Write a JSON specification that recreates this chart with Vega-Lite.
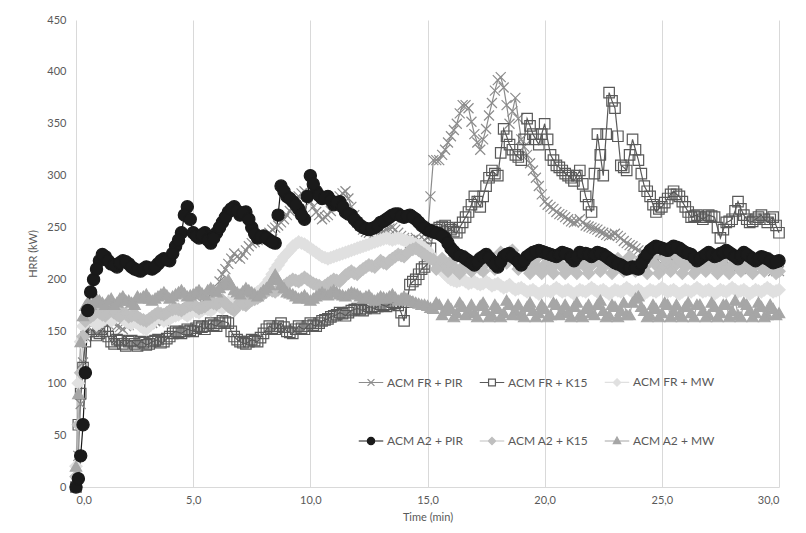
{
"$schema": "https://vega.github.io/schema/vega-lite/v6.json",
"width": 703, "height": 467,
"autosize": {"type": "none"},
"padding": {"left": 76, "top": 20, "right": 27, "bottom": 46},
"background": "white",
"config": {"view": {"stroke": null}, "font": "Lato"},
"data": {"values": [
{"t":0,"k1":0,"k2":0,"k3":20,"k9":0,"k5":10,"k6":20},
{"t":0.1,"k1":30,"k2":60,"k3":100,"k9":8,"k5":60,"k6":90},
{"t":0.2,"k1":80,"k2":90,"k3":140,"k9":30,"k5":110,"k6":140},
{"t":0.3,"k1":120,"k2":115,"k3":155,"k9":60,"k5":145,"k6":165},
{"t":0.4,"k1":145,"k2":140,"k3":160,"k9":110,"k5":160,"k6":175},
{"t":0.5,"k1":155,"k2":150,"k3":162,"k9":170,"k5":165,"k6":178},
{"t":0.75,"k1":160,"k2":150,"k3":160,"k9":200,"k5":166,"k6":178},
{"t":1.0,"k1":162,"k2":148,"k3":158,"k9":218,"k5":168,"k6":180},
{"t":1.25,"k1":158,"k2":150,"k3":162,"k9":222,"k5":165,"k6":176},
{"t":1.5,"k1":160,"k2":140,"k3":160,"k9":215,"k5":170,"k6":182},
{"t":1.75,"k1":155,"k2":142,"k3":165,"k9":212,"k5":166,"k6":178},
{"t":2.0,"k1":152,"k2":138,"k3":162,"k9":218,"k5":168,"k6":184},
{"t":2.25,"k1":156,"k2":140,"k3":158,"k9":215,"k5":164,"k6":180},
{"t":2.5,"k1":160,"k2":138,"k3":160,"k9":210,"k5":166,"k6":176},
{"t":2.75,"k1":158,"k2":140,"k3":155,"k9":208,"k5":162,"k6":182},
{"t":3.0,"k1":155,"k2":137,"k3":152,"k9":212,"k5":160,"k6":186},
{"t":3.25,"k1":158,"k2":140,"k3":158,"k9":210,"k5":164,"k6":180},
{"t":3.5,"k1":162,"k2":142,"k3":165,"k9":215,"k5":168,"k6":184},
{"t":3.75,"k1":160,"k2":140,"k3":160,"k9":220,"k5":166,"k6":188},
{"t":4.0,"k1":165,"k2":145,"k3":162,"k9":218,"k5":170,"k6":182},
{"t":4.25,"k1":168,"k2":150,"k3":165,"k9":232,"k5":172,"k6":186},
{"t":4.5,"k1":170,"k2":148,"k3":168,"k9":245,"k5":170,"k6":190},
{"t":4.75,"k1":172,"k2":152,"k3":165,"k9":270,"k5":174,"k6":184},
{"t":5.0,"k1":170,"k2":150,"k3":170,"k9":245,"k5":176,"k6":186},
{"t":5.25,"k1":175,"k2":155,"k3":168,"k9":240,"k5":172,"k6":190},
{"t":5.5,"k1":180,"k2":152,"k3":172,"k9":245,"k5":174,"k6":185},
{"t":5.75,"k1":185,"k2":158,"k3":170,"k9":235,"k5":178,"k6":192},
{"t":6.0,"k1":190,"k2":155,"k3":175,"k9":245,"k5":176,"k6":188},
{"t":6.25,"k1":205,"k2":160,"k3":172,"k9":255,"k5":180,"k6":195},
{"t":6.5,"k1":215,"k2":158,"k3":178,"k9":265,"k5":174,"k6":200},
{"t":6.75,"k1":225,"k2":145,"k3":176,"k9":270,"k5":170,"k6":190},
{"t":7.0,"k1":220,"k2":140,"k3":180,"k9":262,"k5":178,"k6":186},
{"t":7.25,"k1":228,"k2":138,"k3":182,"k9":265,"k5":175,"k6":192},
{"t":7.5,"k1":235,"k2":142,"k3":185,"k9":250,"k5":180,"k6":188},
{"t":7.75,"k1":238,"k2":140,"k3":188,"k9":240,"k5":182,"k6":184},
{"t":8.0,"k1":240,"k2":148,"k3":192,"k9":242,"k5":186,"k6":190},
{"t":8.25,"k1":245,"k2":155,"k3":200,"k9":238,"k5":190,"k6":195},
{"t":8.5,"k1":250,"k2":152,"k3":210,"k9":235,"k5":188,"k6":205},
{"t":8.75,"k1":255,"k2":158,"k3":218,"k9":290,"k5":192,"k6":195},
{"t":9.0,"k1":262,"k2":150,"k3":225,"k9":280,"k5":196,"k6":188},
{"t":9.25,"k1":270,"k2":148,"k3":232,"k9":275,"k5":200,"k6":186},
{"t":9.5,"k1":280,"k2":155,"k3":236,"k9":268,"k5":198,"k6":182},
{"t":9.75,"k1":285,"k2":152,"k3":234,"k9":258,"k5":202,"k6":185},
{"t":10.0,"k1":275,"k2":158,"k3":230,"k9":300,"k5":198,"k6":180},
{"t":10.25,"k1":265,"k2":155,"k3":226,"k9":285,"k5":195,"k6":184},
{"t":10.5,"k1":258,"k2":160,"k3":222,"k9":278,"k5":192,"k6":188},
{"t":10.75,"k1":262,"k2":162,"k3":220,"k9":280,"k5":196,"k6":185},
{"t":11.0,"k1":270,"k2":165,"k3":222,"k9":272,"k5":200,"k6":190},
{"t":11.25,"k1":280,"k2":168,"k3":224,"k9":275,"k5":198,"k6":186},
{"t":11.5,"k1":285,"k2":165,"k3":226,"k9":265,"k5":204,"k6":184},
{"t":11.75,"k1":270,"k2":170,"k3":228,"k9":262,"k5":208,"k6":188},
{"t":12.0,"k1":255,"k2":172,"k3":230,"k9":255,"k5":205,"k6":186},
{"t":12.25,"k1":248,"k2":170,"k3":232,"k9":250,"k5":210,"k6":182},
{"t":12.5,"k1":245,"k2":174,"k3":234,"k9":248,"k5":214,"k6":185},
{"t":12.75,"k1":240,"k2":172,"k3":236,"k9":250,"k5":212,"k6":180},
{"t":13.0,"k1":244,"k2":176,"k3":238,"k9":255,"k5":218,"k6":184},
{"t":13.25,"k1":248,"k2":174,"k3":240,"k9":258,"k5":215,"k6":182},
{"t":13.5,"k1":250,"k2":178,"k3":238,"k9":262,"k5":220,"k6":186},
{"t":13.75,"k1":245,"k2":175,"k3":240,"k9":263,"k5":224,"k6":180},
{"t":14.0,"k1":240,"k2":160,"k3":238,"k9":260,"k5":222,"k6":184},
{"t":14.25,"k1":235,"k2":195,"k3":236,"k9":262,"k5":228,"k6":180},
{"t":14.5,"k1":240,"k2":200,"k3":234,"k9":258,"k5":230,"k6":178},
{"t":14.75,"k1":235,"k2":210,"k3":232,"k9":252,"k5":226,"k6":176},
{"t":15.0,"k1":240,"k2":215,"k3":228,"k9":248,"k5":222,"k6":175},
{"t":15.25,"k1":315,"k2":245,"k3":220,"k9":246,"k5":219,"k6":172},
{"t":15.5,"k1":315,"k2":250,"k3":212,"k9":244,"k5":214,"k6":176},
{"t":15.75,"k1":325,"k2":252,"k3":205,"k9":240,"k5":212,"k6":170},
{"t":16.0,"k1":338,"k2":248,"k3":200,"k9":230,"k5":216,"k6":172},
{"t":16.25,"k1":350,"k2":245,"k3":198,"k9":224,"k5":209,"k6":168},
{"t":16.5,"k1":368,"k2":255,"k3":200,"k9":222,"k5":212,"k6":174},
{"t":16.75,"k1":365,"k2":265,"k3":196,"k9":218,"k5":218,"k6":170},
{"t":17.0,"k1":340,"k2":280,"k3":198,"k9":214,"k5":214,"k6":168},
{"t":17.25,"k1":325,"k2":270,"k3":195,"k9":220,"k5":210,"k6":175},
{"t":17.5,"k1":345,"k2":290,"k3":198,"k9":224,"k5":216,"k6":170},
{"t":17.75,"k1":370,"k2":305,"k3":194,"k9":218,"k5":220,"k6":166},
{"t":18.0,"k1":392,"k2":300,"k3":196,"k9":212,"k5":214,"k6":172},
{"t":18.25,"k1":385,"k2":345,"k3":192,"k9":222,"k5":222,"k6":168},
{"t":18.5,"k1":350,"k2":330,"k3":195,"k9":225,"k5":226,"k6":176},
{"t":18.75,"k1":375,"k2":320,"k3":190,"k9":220,"k5":220,"k6":170},
{"t":19.0,"k1":335,"k2":315,"k3":192,"k9":214,"k5":214,"k6":166},
{"t":19.25,"k1":320,"k2":355,"k3":188,"k9":222,"k5":212,"k6":174},
{"t":19.5,"k1":305,"k2":340,"k3":190,"k9":226,"k5":216,"k6":170},
{"t":19.75,"k1":290,"k2":330,"k3":186,"k9":228,"k5":210,"k6":168},
{"t":20.0,"k1":275,"k2":350,"k3":190,"k9":226,"k5":214,"k6":172},
{"t":20.25,"k1":270,"k2":320,"k3":188,"k9":224,"k5":210,"k6":166},
{"t":20.5,"k1":265,"k2":310,"k3":192,"k9":222,"k5":216,"k6":176},
{"t":20.75,"k1":262,"k2":305,"k3":188,"k9":226,"k5":212,"k6":170},
{"t":21.0,"k1":258,"k2":300,"k3":190,"k9":224,"k5":214,"k6":168},
{"t":21.25,"k1":255,"k2":295,"k3":186,"k9":218,"k5":210,"k6":174},
{"t":21.5,"k1":258,"k2":305,"k3":190,"k9":226,"k5":216,"k6":166},
{"t":21.75,"k1":252,"k2":280,"k3":188,"k9":225,"k5":212,"k6":172},
{"t":22.0,"k1":250,"k2":265,"k3":192,"k9":222,"k5":214,"k6":168},
{"t":22.25,"k1":248,"k2":340,"k3":188,"k9":226,"k5":218,"k6":176},
{"t":22.5,"k1":245,"k2":300,"k3":190,"k9":224,"k5":212,"k6":170},
{"t":22.75,"k1":242,"k2":380,"k3":186,"k9":220,"k5":216,"k6":166},
{"t":23.0,"k1":244,"k2":365,"k3":190,"k9":216,"k5":210,"k6":174},
{"t":23.25,"k1":240,"k2":310,"k3":188,"k9":214,"k5":214,"k6":170},
{"t":23.5,"k1":235,"k2":305,"k3":192,"k9":210,"k5":218,"k6":166},
{"t":23.75,"k1":232,"k2":335,"k3":188,"k9":212,"k5":212,"k6":178},
{"t":24.0,"k1":228,"k2":315,"k3":190,"k9":210,"k5":216,"k6":184},
{"t":24.25,"k1":225,"k2":290,"k3":186,"k9":220,"k5":212,"k6":170},
{"t":24.5,"k1":222,"k2":280,"k3":190,"k9":228,"k5":218,"k6":166},
{"t":24.75,"k1":220,"k2":265,"k3":188,"k9":232,"k5":214,"k6":172},
{"t":25.0,"k1":222,"k2":270,"k3":192,"k9":230,"k5":210,"k6":168},
{"t":25.25,"k1":218,"k2":278,"k3":188,"k9":228,"k5":216,"k6":176},
{"t":25.5,"k1":220,"k2":285,"k3":190,"k9":232,"k5":212,"k6":170},
{"t":25.75,"k1":216,"k2":280,"k3":186,"k9":230,"k5":218,"k6":166},
{"t":26.0,"k1":220,"k2":270,"k3":190,"k9":226,"k5":212,"k6":174},
{"t":26.25,"k1":214,"k2":260,"k3":188,"k9":224,"k5":216,"k6":168},
{"t":26.5,"k1":218,"k2":262,"k3":192,"k9":218,"k5":210,"k6":176},
{"t":26.75,"k1":215,"k2":258,"k3":188,"k9":222,"k5":214,"k6":170},
{"t":27.0,"k1":218,"k2":262,"k3":190,"k9":226,"k5":218,"k6":166},
{"t":27.25,"k1":212,"k2":260,"k3":186,"k9":222,"k5":212,"k6":174},
{"t":27.5,"k1":216,"k2":240,"k3":190,"k9":225,"k5":216,"k6":168},
{"t":27.75,"k1":214,"k2":255,"k3":188,"k9":228,"k5":210,"k6":176},
{"t":28.0,"k1":216,"k2":258,"k3":192,"k9":224,"k5":214,"k6":170},
{"t":28.25,"k1":212,"k2":275,"k3":188,"k9":220,"k5":212,"k6":166},
{"t":28.5,"k1":214,"k2":262,"k3":190,"k9":226,"k5":216,"k6":178},
{"t":28.75,"k1":210,"k2":255,"k3":186,"k9":222,"k5":210,"k6":170},
{"t":29.0,"k1":214,"k2":258,"k3":190,"k9":218,"k5":214,"k6":168},
{"t":29.25,"k1":210,"k2":262,"k3":188,"k9":222,"k5":212,"k6":174},
{"t":29.5,"k1":212,"k2":255,"k3":192,"k9":220,"k5":216,"k6":166},
{"t":29.75,"k1":208,"k2":260,"k3":188,"k9":216,"k5":210,"k6":172},
{"t":30.0,"k1":208,"k2":245,"k3":190,"k9":218,"k5":208,"k6":168},
{"t":0.625,"k1":158,"k2":152,"k3":161,"k9":188,"k5":164,"k6":176},
{"t":0.875,"k1":162,"k2":146,"k3":156,"k9":210,"k5":169,"k6":182},
{"t":1.125,"k1":160,"k2":152,"k3":160,"k9":224,"k5":166,"k6":178},
{"t":1.375,"k1":157,"k2":145,"k3":163,"k9":218,"k5":168,"k6":180},
{"t":1.625,"k1":158,"k2":138,"k3":162,"k9":214,"k5":168,"k6":176},
{"t":1.875,"k1":154,"k2":141,"k3":166,"k9":216,"k5":164,"k6":182},
{"t":2.125,"k1":155,"k2":136,"k3":160,"k9":217,"k5":167,"k6":180},
{"t":2.375,"k1":158,"k2":141,"k3":157,"k9":212,"k5":165,"k6":178},
{"t":2.625,"k1":159,"k2":136,"k3":158,"k9":209,"k5":164,"k6":184},
{"t":2.875,"k1":156,"k2":139,"k3":153,"k9":210,"k5":161,"k6":184},
{"t":3.125,"k1":157,"k2":138,"k3":155,"k9":211,"k5":162,"k6":182},
{"t":3.375,"k1":160,"k2":141,"k3":162,"k9":212,"k5":166,"k6":182},
{"t":3.625,"k1":161,"k2":139,"k3":163,"k9":218,"k5":167,"k6":186},
{"t":3.875,"k1":163,"k2":143,"k3":161,"k9":219,"k5":168,"k6":185},
{"t":4.125,"k1":166,"k2":148,"k3":164,"k9":225,"k5":171,"k6":184},
{"t":4.375,"k1":169,"k2":149,"k3":166,"k9":238,"k5":171,"k6":188},
{"t":4.625,"k1":171,"k2":150,"k3":167,"k9":262,"k5":172,"k6":187},
{"t":4.875,"k1":171,"k2":151,"k3":167,"k9":258,"k5":175,"k6":185},
{"t":5.125,"k1":172,"k2":153,"k3":169,"k9":242,"k5":174,"k6":188},
{"t":5.375,"k1":178,"k2":154,"k3":170,"k9":243,"k5":173,"k6":187},
{"t":5.625,"k1":182,"k2":155,"k3":171,"k9":238,"k5":176,"k6":190},
{"t":5.875,"k1":188,"k2":156,"k3":172,"k9":240,"k5":177,"k6":190},
{"t":6.125,"k1":198,"k2":158,"k3":174,"k9":250,"k5":178,"k6":192},
{"t":6.375,"k1":210,"k2":159,"k3":175,"k9":260,"k5":177,"k6":198},
{"t":6.625,"k1":220,"k2":150,"k3":177,"k9":268,"k5":172,"k6":195},
{"t":6.875,"k1":222,"k2":142,"k3":178,"k9":266,"k5":174,"k6":188},
{"t":7.125,"k1":224,"k2":139,"k3":181,"k9":264,"k5":176,"k6":189},
{"t":7.375,"k1":232,"k2":140,"k3":184,"k9":258,"k5":178,"k6":190},
{"t":7.625,"k1":236,"k2":141,"k3":186,"k9":244,"k5":181,"k6":186},
{"t":7.875,"k1":239,"k2":144,"k3":190,"k9":241,"k5":184,"k6":187},
{"t":8.125,"k1":242,"k2":152,"k3":196,"k9":240,"k5":188,"k6":192},
{"t":8.375,"k1":248,"k2":153,"k3":205,"k9":236,"k5":189,"k6":200},
{"t":8.625,"k1":252,"k2":155,"k3":214,"k9":262,"k5":190,"k6":200},
{"t":8.875,"k1":258,"k2":154,"k3":222,"k9":285,"k5":194,"k6":192},
{"t":9.125,"k1":266,"k2":149,"k3":228,"k9":278,"k5":198,"k6":187},
{"t":9.375,"k1":275,"k2":152,"k3":234,"k9":272,"k5":199,"k6":184},
{"t":9.625,"k1":283,"k2":153,"k3":235,"k9":262,"k5":200,"k6":183},
{"t":9.875,"k1":280,"k2":155,"k3":232,"k9":280,"k5":200,"k6":182},
{"t":10.125,"k1":270,"k2":156,"k3":228,"k9":292,"k5":196,"k6":182},
{"t":10.375,"k1":262,"k2":158,"k3":224,"k9":281,"k5":194,"k6":186},
{"t":10.625,"k1":260,"k2":161,"k3":221,"k9":279,"k5":194,"k6":186},
{"t":10.875,"k1":266,"k2":164,"k3":221,"k9":276,"k5":198,"k6":188},
{"t":11.125,"k1":275,"k2":166,"k3":223,"k9":274,"k5":199,"k6":188},
{"t":11.375,"k1":283,"k2":167,"k3":225,"k9":270,"k5":201,"k6":185},
{"t":11.625,"k1":278,"k2":168,"k3":227,"k9":263,"k5":206,"k6":186},
{"t":11.875,"k1":262,"k2":171,"k3":229,"k9":258,"k5":206,"k6":187},
{"t":12.125,"k1":252,"k2":171,"k3":231,"k9":252,"k5":208,"k6":184},
{"t":12.375,"k1":246,"k2":172,"k3":233,"k9":249,"k5":212,"k6":184},
{"t":12.625,"k1":242,"k2":173,"k3":235,"k9":249,"k5":213,"k6":182},
{"t":12.875,"k1":242,"k2":174,"k3":237,"k9":252,"k5":215,"k6":182},
{"t":13.125,"k1":246,"k2":175,"k3":239,"k9":256,"k5":216,"k6":183},
{"t":13.375,"k1":249,"k2":176,"k3":239,"k9":260,"k5":218,"k6":184},
{"t":13.625,"k1":248,"k2":177,"k3":239,"k9":263,"k5":222,"k6":183},
{"t":13.875,"k1":242,"k2":168,"k3":239,"k9":261,"k5":223,"k6":182},
{"t":14.125,"k1":238,"k2":178,"k3":237,"k9":261,"k5":225,"k6":182},
{"t":14.375,"k1":238,"k2":198,"k3":235,"k9":260,"k5":229,"k6":179},
{"t":14.625,"k1":238,"k2":205,"k3":233,"k9":255,"k5":228,"k6":177},
{"t":14.875,"k1":238,"k2":212,"k3":230,"k9":250,"k5":224,"k6":176},
{"t":15.125,"k1":280,"k2":230,"k3":224,"k9":247,"k5":220,"k6":173},
{"t":15.375,"k1":315,"k2":248,"k3":216,"k9":245,"k5":210,"k6":178},
{"t":15.625,"k1":320,"k2":251,"k3":208,"k9":242,"k5":220,"k6":166},
{"t":15.875,"k1":332,"k2":250,"k3":202,"k9":235,"k5":208,"k6":176},
{"t":16.125,"k1":344,"k2":246,"k3":199,"k9":227,"k5":220,"k6":164},
{"t":16.375,"k1":360,"k2":250,"k3":199,"k9":223,"k5":206,"k6":178},
{"t":16.625,"k1":368,"k2":260,"k3":198,"k9":220,"k5":222,"k6":166},
{"t":16.875,"k1":352,"k2":272,"k3":197,"k9":216,"k5":208,"k6":176},
{"t":17.125,"k1":332,"k2":275,"k3":196,"k9":217,"k5":220,"k6":164},
{"t":17.375,"k1":335,"k2":280,"k3":196,"k9":222,"k5":208,"k6":178},
{"t":17.625,"k1":358,"k2":298,"k3":196,"k9":221,"k5":224,"k6":164},
{"t":17.875,"k1":382,"k2":302,"k3":195,"k9":215,"k5":210,"k6":176},
{"t":18.125,"k1":395,"k2":322,"k3":194,"k9":217,"k5":226,"k6":164},
{"t":18.375,"k1":368,"k2":338,"k3":193,"k9":224,"k5":216,"k6":180},
{"t":18.625,"k1":362,"k2":325,"k3":192,"k9":222,"k5":228,"k6":166},
{"t":18.875,"k1":355,"k2":318,"k3":191,"k9":217,"k5":210,"k6":176},
{"t":19.125,"k1":328,"k2":335,"k3":190,"k9":218,"k5":220,"k6":164},
{"t":19.375,"k1":312,"k2":348,"k3":189,"k9":224,"k5":206,"k6":178},
{"t":19.625,"k1":298,"k2":335,"k3":188,"k9":227,"k5":220,"k6":164},
{"t":19.875,"k1":282,"k2":340,"k3":188,"k9":227,"k5":206,"k6":176},
{"t":20.125,"k1":272,"k2":335,"k3":189,"k9":225,"k5":220,"k6":164},
{"t":20.375,"k1":268,"k2":315,"k3":190,"k9":223,"k5":206,"k6":178},
{"t":20.625,"k1":263,"k2":308,"k3":190,"k9":224,"k5":220,"k6":166},
{"t":20.875,"k1":260,"k2":302,"k3":189,"k9":225,"k5":206,"k6":176},
{"t":21.125,"k1":256,"k2":298,"k3":188,"k9":221,"k5":220,"k6":164},
{"t":21.375,"k1":256,"k2":300,"k3":188,"k9":222,"k5":206,"k6":178},
{"t":21.625,"k1":255,"k2":292,"k3":189,"k9":225,"k5":220,"k6":164},
{"t":21.875,"k1":251,"k2":272,"k3":190,"k9":224,"k5":206,"k6":176},
{"t":22.125,"k1":249,"k2":302,"k3":190,"k9":224,"k5":222,"k6":166},
{"t":22.375,"k1":246,"k2":320,"k3":189,"k9":225,"k5":208,"k6":180},
{"t":22.625,"k1":243,"k2":340,"k3":188,"k9":222,"k5":220,"k6":164},
{"t":22.875,"k1":243,"k2":372,"k3":188,"k9":218,"k5":206,"k6":176},
{"t":23.125,"k1":242,"k2":338,"k3":189,"k9":215,"k5":220,"k6":164},
{"t":23.375,"k1":237,"k2":308,"k3":190,"k9":212,"k5":208,"k6":178},
{"t":23.625,"k1":233,"k2":320,"k3":190,"k9":211,"k5":222,"k6":166},
{"t":23.875,"k1":230,"k2":325,"k3":189,"k9":211,"k5":208,"k6":182},
{"t":24.125,"k1":226,"k2":302,"k3":188,"k9":215,"k5":220,"k6":174},
{"t":24.375,"k1":223,"k2":285,"k3":188,"k9":224,"k5":206,"k6":164},
{"t":24.625,"k1":221,"k2":272,"k3":189,"k9":230,"k5":222,"k6":176},
{"t":24.875,"k1":221,"k2":268,"k3":190,"k9":231,"k5":206,"k6":164},
{"t":25.125,"k1":220,"k2":274,"k3":190,"k9":229,"k5":220,"k6":178},
{"t":25.375,"k1":219,"k2":282,"k3":189,"k9":230,"k5":208,"k6":164},
{"t":25.625,"k1":218,"k2":282,"k3":188,"k9":231,"k5":222,"k6":176},
{"t":25.875,"k1":218,"k2":275,"k3":188,"k9":228,"k5":206,"k6":164},
{"t":26.125,"k1":217,"k2":265,"k3":189,"k9":225,"k5":220,"k6":178},
{"t":26.375,"k1":216,"k2":261,"k3":190,"k9":221,"k5":206,"k6":164},
{"t":26.625,"k1":216,"k2":260,"k3":190,"k9":220,"k5":220,"k6":176},
{"t":26.875,"k1":216,"k2":260,"k3":189,"k9":224,"k5":208,"k6":164},
{"t":27.125,"k1":215,"k2":261,"k3":188,"k9":224,"k5":222,"k6":178},
{"t":27.375,"k1":214,"k2":250,"k3":188,"k9":223,"k5":206,"k6":164},
{"t":27.625,"k1":215,"k2":248,"k3":189,"k9":226,"k5":220,"k6":176},
{"t":27.875,"k1":215,"k2":256,"k3":190,"k9":226,"k5":206,"k6":164},
{"t":28.125,"k1":214,"k2":266,"k3":190,"k9":222,"k5":220,"k6":180},
{"t":28.375,"k1":213,"k2":268,"k3":189,"k9":223,"k5":208,"k6":164},
{"t":28.625,"k1":212,"k2":258,"k3":188,"k9":224,"k5":222,"k6":176},
{"t":28.875,"k1":212,"k2":256,"k3":188,"k9":220,"k5":206,"k6":164},
{"t":29.125,"k1":212,"k2":260,"k3":189,"k9":220,"k5":220,"k6":178},
{"t":29.375,"k1":211,"k2":258,"k3":190,"k9":221,"k5":208,"k6":164},
{"t":29.625,"k1":210,"k2":258,"k3":190,"k9":218,"k5":220,"k6":176},
{"t":29.875,"k1":208,"k2":252,"k3":189,"k9":217,"k5":206,"k6":166}
]},
"transform": [{"fold": ["k1","k2","k3","k9","k5","k6"], "as": ["s","v"]}],
"encoding": {
  "x": {"field": "t", "type": "quantitative", "scale": {"domain": [0, 30], "nice": false},
    "axis": {"values": [0,5,10,15,20,25,30], "format": ".1f", "labelExpr": "replace(datum.label, '.', ',')",
      "grid": true, "gridColor": "#d9d9d9", "domainColor": "#d9d9d9", "ticks": false,
      "labelPadding": 7, "labelFontSize": 11, "labelColor": "#595959", "labelFont": "Lato",
      "title": "Time (min)", "titleFont": "Lato", "titleFontSize": 11, "titleFontWeight": "normal", "titleColor": "#595959", "titlePadding": 6}},
  "y": {"field": "v", "type": "quantitative", "scale": {"domain": [0, 450], "nice": false},
    "axis": {"values": [0,50,100,150,200,250,300,350,400,450], "grid": false, "domain": false, "ticks": false,
      "labelPadding": 10, "labelFontSize": 11, "labelColor": "#595959", "labelFont": "Lato",
      "title": "HRR (kW)", "titleFont": "Lato", "titleFontSize": 11, "titleFontWeight": "normal", "titleColor": "#595959", "titlePadding": 8}}
},
"layer": [
  {"mark": {"type": "line", "strokeWidth": 1.2},
   "encoding": {
     "color": {"field": "s", "type": "nominal",
       "scale": {"domain": ["k1","k2","k3","k9","k5","k6"], "range": ["#8c8c8c","#595959","#e0e0e0","#1a1a1a","#bfbfbf","#a6a6a6"]},
       "legend": {"title": null, "orient": "none", "legendX": 282, "legendY": 349, "columns": 3, "direction": "horizontal",
         "columnPadding": 13, "rowPadding": 39, "padding": 0, "symbolSize": 600, "symbolStrokeWidth": 1.2, "symbolType": "M-1,0L1,0",
         "labelFont": "Lato", "labelFontSize": 12, "labelColor": "#595959", "labelOffset": 3,
         "labelExpr": "datum.value=='k1'?'ACM FR + PIR':datum.value=='k2'?'ACM FR + K15':datum.value=='k3'?'ACM FR + MW':datum.value=='k9'?'ACM A2 + PIR':datum.value=='k5'?'ACM A2 + K15':'ACM A2 + MW'",
         "encode": {"symbols": {"update": {
           "shape": {"signal": "datum.value=='k1'?'M-1,0L1,0M-0.28,-0.28L0.28,0.28M-0.28,0.28L0.28,-0.28':datum.value=='k2'?'M-1,0L-0.28,0M0.28,0L1,0M-0.28,-0.28L0.28,-0.28L0.28,0.28L-0.28,0.28Z':datum.value=='k3'?'M-1,0L1,0M0,-0.3L0.3,0L0,0.3L-0.3,0Z':datum.value=='k9'?'M-1,0L1,0M0.3,0A0.3,0.3 0 1,1 -0.3,0A0.3,0.3 0 1,1 0.3,0Z':datum.value=='k5'?'M-1,0L1,0M0,-0.3L0.3,0L0,0.3L-0.3,0Z':'M-1,0L1,0M0,-0.32L0.3,0.22L-0.3,0.22Z'"},
           "fill": {"signal": "datum.value=='k1'||datum.value=='k2'?'transparent':scale('color', datum.value)"}
         }}}
       }}
   }},
  {"mark": {"type": "point", "strokeWidth": 1.2, "opacity": 1},
   "encoding": {
     "order": {"field": "s", "type": "nominal"},
     "shape": {"condition": [
        {"test": "datum.s=='k1'", "value": "M-1,-1L1,1M-1,1L1,-1"},
        {"test": "datum.s=='k2'", "value": "square"},
        {"test": "datum.s=='k3'", "value": "diamond"},
        {"test": "datum.s=='k9'", "value": "circle"},
        {"test": "datum.s=='k5'", "value": "diamond"}], "value": "triangle-up"},
     "stroke": {"condition": [
        {"test": "datum.s=='k1'", "value": "#8c8c8c"},
        {"test": "datum.s=='k2'", "value": "#595959"},
        {"test": "datum.s=='k3'", "value": "#e0e0e0"},
        {"test": "datum.s=='k9'", "value": "#1a1a1a"},
        {"test": "datum.s=='k5'", "value": "#bfbfbf"}], "value": "#a6a6a6"},
     "fill": {"condition": [
        {"test": "datum.s=='k1'", "value": "transparent"},
        {"test": "datum.s=='k2'", "value": "transparent"},
        {"test": "datum.s=='k3'", "value": "#e0e0e0"},
        {"test": "datum.s=='k9'", "value": "#1a1a1a"},
        {"test": "datum.s=='k5'", "value": "#bfbfbf"}], "value": "#a6a6a6"},
     "size": {"condition": [
        {"test": "datum.s=='k1'", "value": 100},
        {"test": "datum.s=='k2'", "value": 110},
        {"test": "datum.s=='k3'", "value": 150},
        {"test": "datum.s=='k9'", "value": 150},
        {"test": "datum.s=='k5'", "value": 150}], "value": 130}
   }}
]
}
